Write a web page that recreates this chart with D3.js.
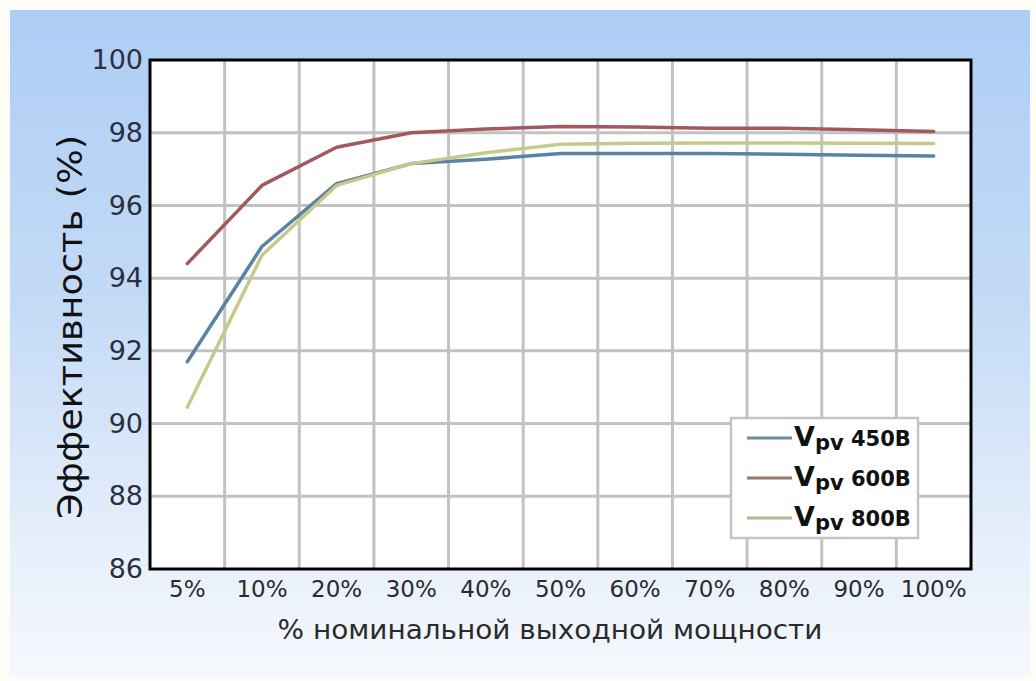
<!DOCTYPE html>
<html><head><meta charset="utf-8">
<script src="https://cdn.jsdelivr.net/npm/d3@7"></script>
<style>html,body{margin:0;padding:0;background:#fdfdf8;}svg{display:block;}</style>
</head><body>
<script>
const categories = ["5%","10%","20%","30%","40%","50%","60%","70%","80%","90%","100%"];
const v450 = [91.7, 94.87, 96.6, 97.15, 97.27, 97.43, 97.43, 97.43, 97.41, 97.38, 97.36];
const v600 = [94.4, 96.55, 97.6, 98.0, 98.1, 98.17, 98.16, 98.12, 98.12, 98.08, 98.03];
const v800 = [90.45, 94.63, 96.55, 97.15, 97.45, 97.68, 97.71, 97.72, 97.72, 97.71, 97.7];
const yTicks = [86, 88, 90, 92, 94, 96, 98, 100];
const seriesNames = ["450B", "600B", "800B"];
const seriesColors = ["#5a83a3", "#a3585d", "#c6c98a"];
const legendColors = ["#6b8c98", "#9a7672", "#b9b894"];

const W = 1036, H = 681;
const svg = d3.select("body").append("svg").attr("width", W).attr("height", H);
const defs = svg.append("defs");
const grad = defs.append("linearGradient").attr("id","bg").attr("x1",0).attr("y1",0).attr("x2",0).attr("y2",1);
grad.append("stop").attr("offset","0%").attr("stop-color","#aecdf5");
grad.append("stop").attr("offset","45%").attr("stop-color","#c4dbf6");
grad.append("stop").attr("offset","80%").attr("stop-color","#e6effb");
grad.append("stop").attr("offset","100%").attr("stop-color","#f6f8fc");
svg.append("rect").attr("x",10).attr("y",10).attr("width",1020).attr("height",667).attr("fill","url(#bg)");

const L = 150, R = 971, T = 60, B = 569;
const x = d3.scaleBand().domain(categories).range([L, R]);
const y = d3.scaleLinear().domain([86, 100]).range([B, T]);
const cx = c => x(c) + x.bandwidth() / 2;

svg.append("rect").attr("x",L).attr("y",T).attr("width",R-L).attr("height",B-T).attr("fill","#fff");

// grid
const grid = svg.append("g").attr("stroke","#c2c2c2").attr("stroke-width",3);
grid.selectAll("line.v").data(categories.slice(1)).join("line")
  .attr("x1", d => x(d)).attr("x2", d => x(d)).attr("y1", T).attr("y2", B);
grid.selectAll("line.h").data(yTicks.filter(t => t > 86 && t < 100)).join("line")
  .attr("x1", L).attr("x2", R).attr("y1", d => y(d)).attr("y2", d => y(d));

// lines
const line = d3.line().x((d,i) => cx(categories[i])).y(d => y(d));
[v450, v600, v800].forEach((s, k) => {
  svg.append("path").datum(s).attr("d", line).attr("fill","none")
    .attr("stroke", seriesColors[k]).attr("stroke-width", 3.5)
    .attr("stroke-linejoin","round").attr("stroke-linecap","round");
});

// border
svg.append("rect").attr("x",L).attr("y",T).attr("width",R-L).attr("height",B-T)
  .attr("fill","none").attr("stroke","#000").attr("stroke-width",3);

// axes
const yAxis = svg.append("g").attr("transform",`translate(${L-2},0)`)
  .call(d3.axisLeft(y).tickValues(yTicks).tickSize(0).tickPadding(5).tickFormat(d3.format("d")));
yAxis.select(".domain").remove();
yAxis.selectAll("text").attr("font-family","DejaVu Sans").attr("font-size",27).attr("fill","#2b3040");

const xAxis = svg.append("g").attr("transform",`translate(0,${B})`)
  .call(d3.axisBottom(x).tickSize(0).tickPadding(12));
xAxis.select(".domain").remove();
xAxis.selectAll("text").attr("font-family","DejaVu Sans").attr("font-size",23).attr("fill","#2b2b2b");

svg.append("text").attr("x", 550).attr("y", 639).attr("text-anchor","middle")
  .attr("font-family","DejaVu Sans").attr("font-size",26).attr("fill","#2b2b2b")
  .attr("textLength", 545).attr("lengthAdjust","spacingAndGlyphs")
  .text("% номинальной выходной мощности");

svg.append("text").attr("transform",`translate(82,${(135+519)/2}) rotate(-90)`).attr("text-anchor","middle")
  .attr("font-family","DejaVu Sans").attr("font-size",34).attr("fill","#111")
  .attr("textLength", 384).attr("lengthAdjust","spacingAndGlyphs")
  .text("Эффективность (%)");

// legend
const lg = svg.append("g");
lg.append("rect").attr("x",731).attr("y",418).attr("width",187).attr("height",120)
  .attr("fill","#fff").attr("stroke","#c4c4c4").attr("stroke-width",2.5);
seriesNames.forEach((n, k) => {
  const yy = 438 + k * 40;
  lg.append("line").attr("x1",747).attr("x2",792).attr("y1",yy).attr("y2",yy)
    .attr("stroke", legendColors[k]).attr("stroke-width",3);
  const t = lg.append("text").attr("x",794).attr("y",yy+8)
    .attr("font-family","DejaVu Sans").attr("font-weight","bold").attr("fill","#111");
  t.append("tspan").attr("font-size",27).text("V");
  t.append("tspan").attr("font-size",21).attr("dy",4).text("pv");
  t.append("tspan").attr("font-size",21).attr("dy",-4).text(" " + n);
});
</script>
</body></html>
